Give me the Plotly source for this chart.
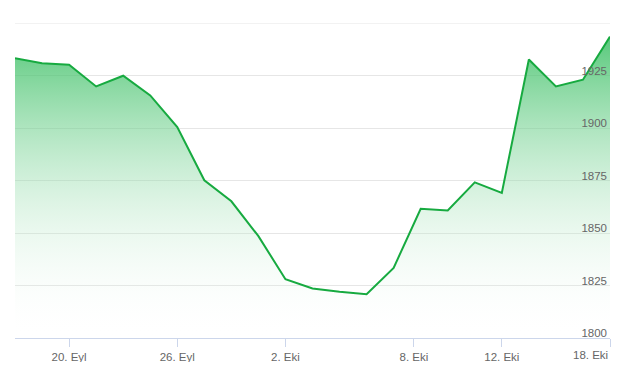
import plotly.graph_objects as go

dates = ["18.09", "19.09", "20.09", "21.09", "22.09", "25.09", "26.09", "27.09",
         "28.09", "29.09", "02.10", "03.10", "04.10", "05.10", "06.10", "09.10",
         "10.10", "11.10", "12.10", "13.10", "16.10", "17.10", "18.10"]
values = [1933.2, 1930.8, 1930.1, 1919.8, 1924.9, 1915.5, 1900.4, 1875.1,
          1865.1, 1848.5, 1828.0, 1823.6, 1822.0, 1820.8, 1833.4, 1861.5,
          1860.7, 1874.1, 1869.1, 1932.6, 1919.8, 1923.0, 1943.5]

tick_pos = [2, 6, 10, 14.75, 18, 22]
tick_labels = ["20. Eyl", "26. Eyl", "2. Eki", "8. Eki", "12. Eki", "18. Eki"]
y_ticks = [1800, 1825, 1850, 1875, 1900, 1925, 1950]
y_labels = ["1800", "1825", "1850", "1875", "1900", "1925", ""]

x_idx = list(range(len(values)))

fig = go.Figure()
fig.add_trace(go.Scatter(
    x=x_idx, y=values, mode="lines",
    line=dict(color="#17aa40", width=2),
    fill="tozeroy",
    fillgradient=dict(type="vertical", start=1800, stop=1950,
                      colorscale=[[0, "rgba(255,255,255,0)"],
                                  [1, "rgba(40,185,85,0.85)"]]),
    hoverinfo="skip",
))

font = dict(family="Liberation Sans, Arial, sans-serif", size=11.5, color="#666666")

fig.update_layout(
    width=607, height=354,
    margin=dict(l=7, r=5, t=15, b=24, autoexpand=False),
    paper_bgcolor="white", plot_bgcolor="white",
    showlegend=False,
    font=font,
    xaxis=dict(range=[0, len(values) - 1], tickvals=tick_pos,
               ticktext=tick_labels[:-1] + [""],
               showgrid=False, zeroline=False, showline=True,
               linecolor="#ccd6eb", linewidth=1, automargin=False,
               ticks="outside", ticklen=8, tickcolor="#ccd6eb", tickwidth=1,
               tickfont=font),
    yaxis=dict(range=[1800, 1950], tickvals=y_ticks, ticktext=y_labels,
               side="right", ticklabelposition="inside", ticklabelshift=-5,
               ticklabeloverflow="allow", automargin=False,
               showgrid=True, gridcolor="#e6e6e6", gridwidth=1,
               zeroline=False, showline=False, ticks="", ticklen=0,
               tickfont=font),
)

fig.add_shape(type="line", xref="paper", x0=0, x1=1, yref="y",
              y0=y_ticks[-1], y1=y_ticks[-1],
              line=dict(color="#e6e6e6", width=1), layer="below")

fig.add_annotation(x=tick_pos[-1], y=0, xref="x", yref="paper",
                   text=tick_labels[-1], showarrow=False,
                   xanchor="right", yanchor="top", yshift=-9, xshift=0,
                   font=font)

fig.write_html("out.html")
